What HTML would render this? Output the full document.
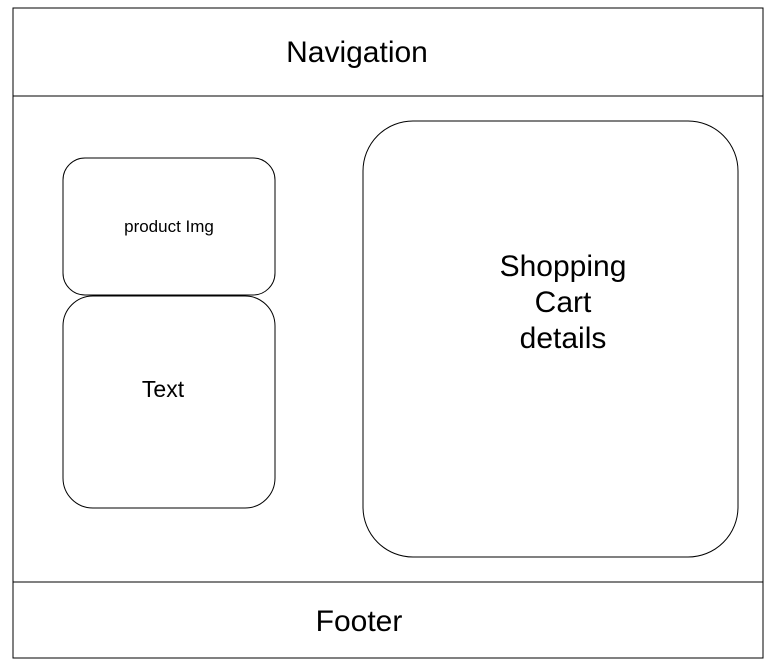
<!DOCTYPE html>
<html><head><style>html,body{margin:0;padding:0;background:#fff}svg{display:block}</style></head>
<body>
<svg width="777" height="672" viewBox="0 0 777 672" xmlns="http://www.w3.org/2000/svg" font-family="Liberation Sans, Arial, sans-serif">
<rect x="13" y="8" width="750" height="650" fill="#fff" stroke="#000" stroke-width="1"/>
<line x1="13" y1="96" x2="763" y2="96" stroke="#000"/>
<line x1="13" y1="582" x2="763" y2="582" stroke="#000"/>
<text x="357" y="62" font-size="30" text-anchor="middle">Navigation</text>
<text x="359" y="631" font-size="30" text-anchor="middle">Footer</text>
<rect x="63" y="158" width="212" height="137" rx="22" fill="#fff" stroke="#000"/>
<text x="169" y="232" font-size="17" text-anchor="middle">product Img</text>
<rect x="63" y="296" width="212" height="212" rx="30" fill="#fff" stroke="#000"/>
<text x="163" y="397" font-size="23" text-anchor="middle">Text</text>
<rect x="363" y="121" width="375" height="436" rx="50" fill="#fff" stroke="#000"/>
<text font-size="30" text-anchor="middle"><tspan x="563" y="276">Shopping</tspan><tspan x="563" y="312">Cart</tspan><tspan x="563" y="348">details</tspan></text>
</svg>
</body></html>
